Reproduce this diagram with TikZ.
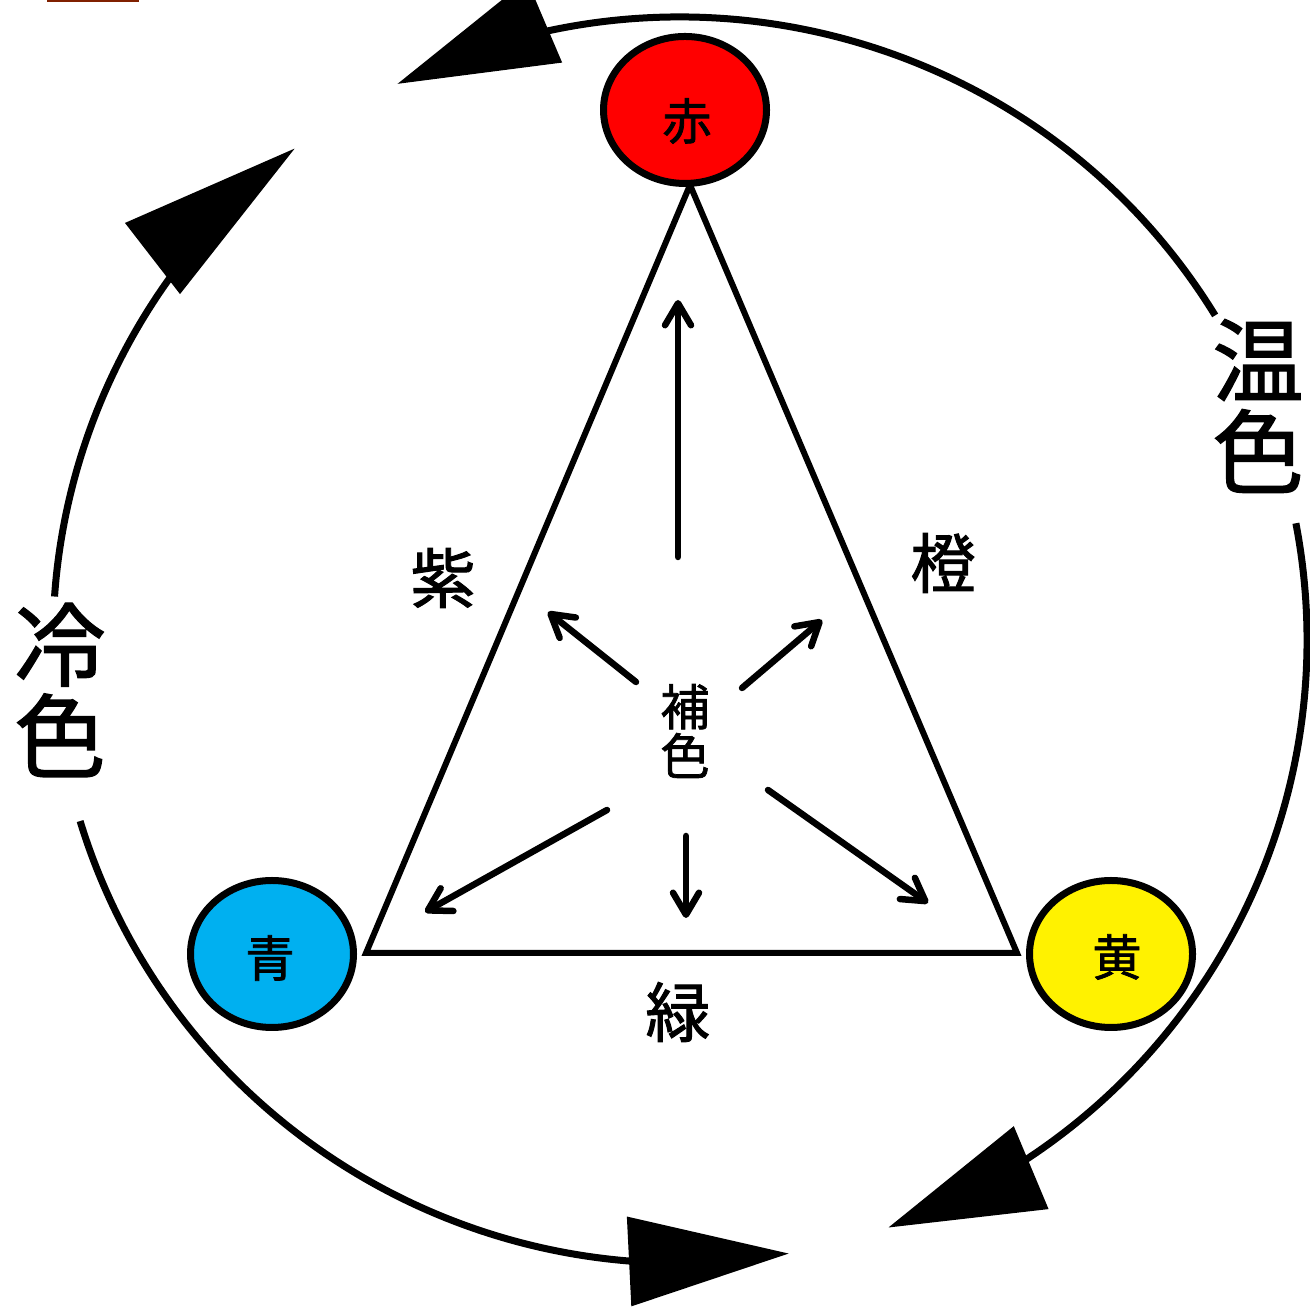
\documentclass[tikz,border=0pt]{standalone}
\usepackage{fontspec}
\newfontfamily\jp[FakeBold=1.5]{Noto Sans CJK JP}
\usetikzlibrary{arrows.meta,bending,shapes.geometric}
\definecolor{rulered}{RGB}{128,32,0}
\definecolor{skyblue}{RGB}{0,176,240}

\begin{document}
\begin{tikzpicture}[x=0.1mm,y=0.1mm,
  prim/.style={draw,ellipse,line width=0.7mm,minimum width=16.3mm,minimum height=14.7mm,inner sep=0pt},
  lab/.style={font=\jp\fontsize{14}{14}\selectfont,inner sep=0pt},
  biglab/.style={font=\jp\fontsize{18.5}{18.5}\selectfont,inner sep=0pt},
  side/.style={font=\jp\fontsize{26}{26}\selectfont,align=center,inner sep=0pt},
  arrow/.style={line width=0.65mm,line cap=round,-{Straight Barb[round,length=2.2mm,width=2.6mm]}},
  ring/.style 2 args={line width=0.7mm,-{Triangle[length=#1,width=8.8mm,flex=#2]}}]
  \useasboundingbox (0,0) rectangle (1310,1310);

  \draw[line width=0.2mm,rulered] (47,1309) -- (139,1309);

  \coordinate (ctr) at (680,670);
  \foreach \a/\b/\l/\f in {31.4/116.8/16mm/0.5, 10.8/-70.6/15.5mm/0.5, 176.0/127.9/18mm/0, 196.9/280/16mm/1}
    \draw[ring={\l}{\f}] ([shift={(\a:62.7mm and 62.3mm)}]ctr) arc[start angle=\a,end angle=\b,x radius=62.7mm,y radius=62.3mm];

  \coordinate (apex) at (690,1125);
  \coordinate (lv) at (366,357);
  \coordinate (rv) at (1017,357);
  \draw[line width=0.6mm] (apex) -- (lv) -- (rv) -- cycle;

  \node[prim,fill=red] (aka) at (685,1200) {};
  \node[prim,fill=skyblue] (ao) at (272,356) {};
  \node[prim,fill=yellow] (ki) at (1111,356) {};
  \node[lab] (akat) at (687,1189) {赤};
  \node[lab] (aot) at (270,352) {青};
  \node[lab] (kit) at (1117,353) {黄};

  \node[biglab] (murasaki) at (443,732) {紫};
  \node[biglab] (daidai) at (943,747) {橙};
  \node[biglab] (midori) at (678,298) {緑};
  \node[side] (onshoku) at (1258,904) {温\\色};
  \node[side] (reishoku) at (60,620) {冷\\色};
  \node[lab,align=center] (hoshoku) at (685,579) {補\\色};

  \foreach \n/\sx/\sy/\ex/\ey in {u/678/753/678/1010, ul/636/628/548/698, ur/742/622/822/690,
      dl/607/500/425/398, d/686/474/686/392, dr/768/520/928/407} {
    \coordinate (s\n) at (\sx,\sy);
    \coordinate (e\n) at (\ex,\ey);
    \draw[arrow] (s\n) -- (e\n);
  }
\end{tikzpicture}
\end{document}
